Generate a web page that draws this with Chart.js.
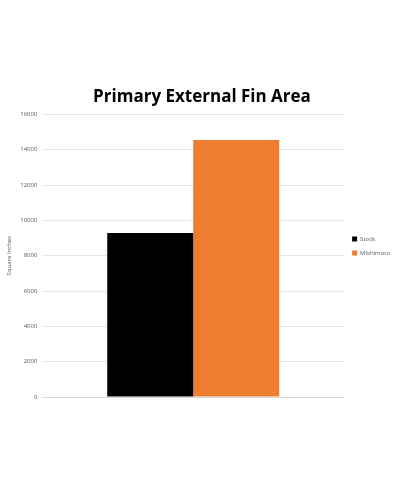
<!DOCTYPE html>
<html><head><meta charset="utf-8">
<script src="https://cdn.jsdelivr.net/npm/chart.js@4"></script>
<style>html,body{margin:0;padding:0;background:#fff}#w{width:400px;height:489px}</style>
</head><body><div id="w"><canvas id="c"></canvas></div>
<script>
const categories = [""];
const seriesNames = ["Stock", "Mishimoto"];
const stockValues = [9280];
const mishimotoValues = [14550];
const colors = ["#000000", "#ED7D31"];
new Chart(document.getElementById('c'), {
  type: 'bar',
  data: {
    labels: categories,
    datasets: [
      {label: seriesNames[0], data: stockValues, backgroundColor: colors[0]},
      {label: seriesNames[1], data: mishimotoValues, backgroundColor: colors[1]}
    ]
  },
  options: {
    responsive: true, maintainAspectRatio: false, animation: false,
    layout: {padding: {top: 87, bottom: 84, left: 4, right: 0}},
    datasets: {bar: {categoryPercentage: 0.57, barPercentage: 1}},
    plugins: {
      title: {display: true, text: 'Primary External Fin Area', color: '#000',
        font: {family: 'Open Sans', size: 17, weight: 'bold'}, padding: {top: 0, bottom: 7}},
      legend: {position: 'right', labels: {boxWidth: 5, boxHeight: 5, color: '#595959',
        font: {family: 'Open Sans', size: 6}, padding: 8}},
      tooltip: {enabled: false}
    },
    scales: {
      x: {grid: {display: false}, border: {color: '#d9d9d9'}, ticks: {display: false}},
      y: {min: 0, max: 16000, ticks: {stepSize: 2000, color: '#595959', font: {family: 'Open Sans', size: 6}, padding: 5,
          callback: v => String(v)},
        grid: {color: '#e6e6e6', drawTicks: false}, border: {display: false},
        title: {display: true, text: 'Square Inches', color: '#595959', font: {family: 'Open Sans', size: 6}, padding: 2}}
    }
  }
});
</script></body></html>
